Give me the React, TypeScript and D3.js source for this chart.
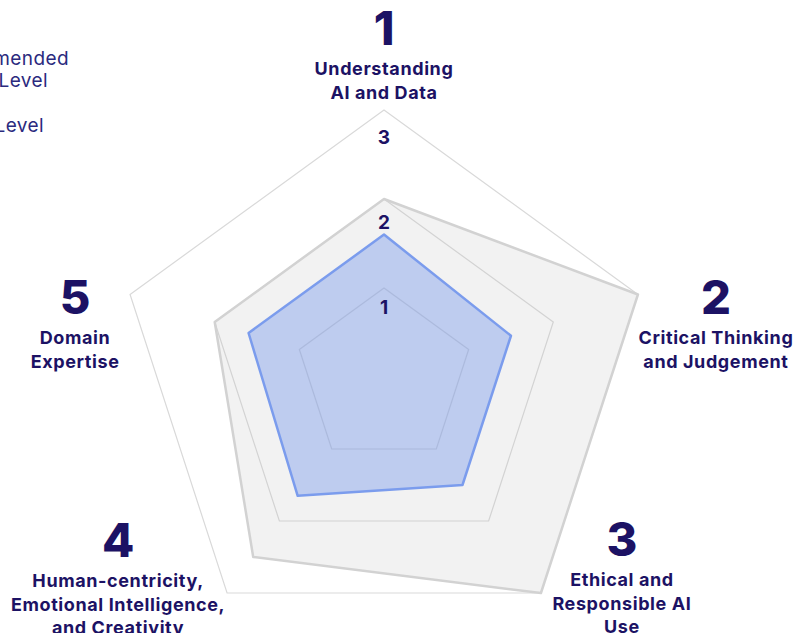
import React from "react";
import * as d3 from "d3";

// chart data
const axisNumbers = ["1", "2", "3", "4", "5"];
const axisLabels = [
  ["Understanding", "AI and Data"],
  ["Critical Thinking", "and Judgement"],
  ["Ethical and", "Responsible AI", "Use"],
  ["Human-centricity,", "Emotional Intelligence,", "and Creativity"],
  ["Domain", "Expertise"],
];
const recommended = [2, 3, 3, 2.5, 2];
const current = [1.6, 1.5, 1.5, 1.65, 1.6];
const ticks = [1, 2, 3];

const W = 794;
const H = 633;
const cx = 384;
const cy = 377;
const R = 267;

// where each axis label block sits relative to its outer vertex
const labelOffsets = [
  { dx: 0, dy: -65 },
  { dx: 78, dy: 20 },
  { dx: 81, dy: -37 },
  { dx: -109, dy: -36 },
  { dx: -55, dy: 20 },
];

const navy = "#1c1264";
const font = "Inter, 'Noto Sans', sans-serif";

const App = () => {
  const r = d3.scaleLinear().domain([0, 3]).range([0, R]);
  const angle = d3
    .scaleLinear()
    .domain([0, axisNumbers.length])
    .range([0, Math.PI * 2]);

  const radial = d3
    .lineRadial<number>()
    .angle((_, i) => angle(i))
    .radius((d) => r(d))
    .curve(d3.curveLinearClosed);

  const point = (i: number, v: number) => [
    cx + r(v) * Math.sin(angle(i)),
    cy - r(v) * Math.cos(angle(i)),
  ];

  return (
    <svg
      width={W}
      height={H}
      style={{ position: "absolute", left: 0, top: 0, background: "white" }}
    >
      <g transform={`translate(${cx},${cy})`}>
        {/* grid */}
        {ticks.map((t) => (
          <path
            key={t}
            d={radial(axisNumbers.map(() => t)) || ""}
            fill="none"
            stroke="#d9d9d9"
            strokeWidth={1.2}
          />
        ))}
        {/* recommended */}
        <path
          d={radial(recommended) || ""}
          fill="rgba(190,190,190,0.2)"
          stroke="#d2d2d2"
          strokeWidth={2.5}
          strokeLinejoin="round"
        />
        {/* current */}
        <path
          d={radial(current) || ""}
          fill="rgba(120,152,234,0.43)"
          stroke="#7b9ced"
          strokeWidth={2.5}
          strokeLinejoin="round"
        />
      </g>

      {/* tick labels */}
      {ticks.map((t) => (
        <text
          key={t}
          x={cx}
          y={cy - r(t) + 26 + 4 * (t - 1)}
          textAnchor="middle"
          fontFamily={font}
          fontWeight={700}
          fontSize={19}
          fill={navy}
        >
          {t}
        </text>
      ))}

      {/* axis labels */}
      {axisNumbers.map((n, i) => {
        const [vx, vy] = point(i, 3);
        const x = vx + labelOffsets[i].dx;
        const y = vy + labelOffsets[i].dy;
        return (
          <g key={n}>
            <text
              x={x}
              y={y}
              textAnchor="middle"
              fontFamily={font}
              fontWeight={800}
              fontSize={47}
              fill={navy}
            >
              {n}
            </text>
            <text
              textAnchor="middle"
              fontFamily={font}
              fontWeight={700}
              fontSize={18}
              letterSpacing={0.6}
              fill={navy}
            >
              {axisLabels[i].map((line, j) => (
                <tspan key={j} x={x} y={y + 30 + j * 23.5}>
                  {line}
                </tspan>
              ))}
            </text>
          </g>
        );
      })}

      {/* legend (runs off the left edge) */}
      <g
        fontFamily={font}
        fontSize={19}
        letterSpacing={0.4}
        fill="#2b2a7e"
        textAnchor="end"
      >
        <text x={69} y={65}>Recommended</text>
        <text x={48} y={87}>Level</text>
        <text x={44} y={132}>Current Level</text>
      </g>
    </svg>
  );
};

export default App;
